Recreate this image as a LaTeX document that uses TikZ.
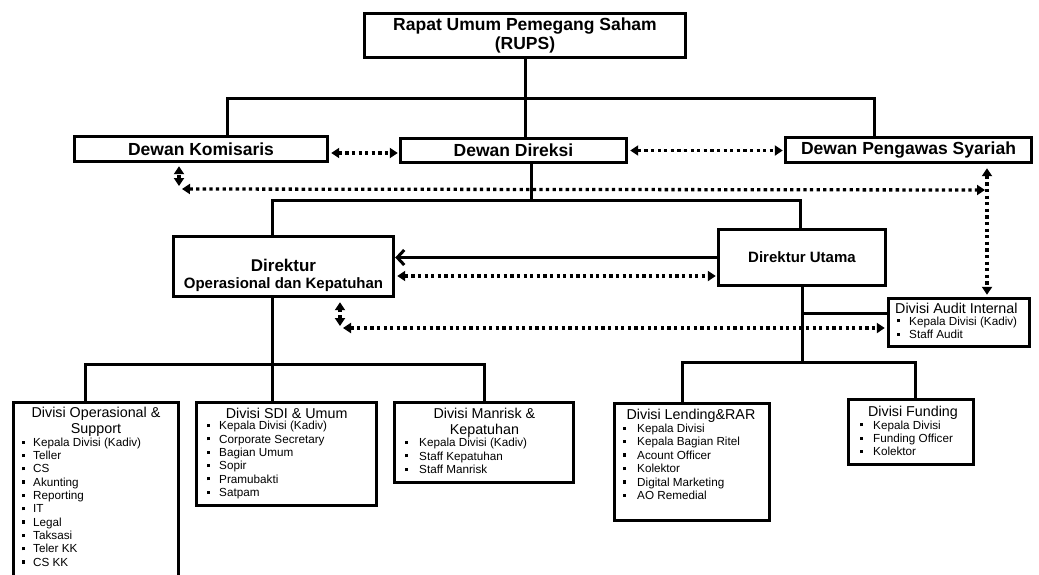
\documentclass[tikz,border=0pt]{standalone}
\usepackage{fontspec}
\setmainfont{Liberation Sans}
\usetikzlibrary{arrows.meta,calc}
\newcommand{\bul}[1]{\makebox[#1][l]{\raisebox{2.6pt}{\rule{3.2pt}{3.2pt}}}}
\newcommand{\blist}[6]{%
  \foreach \itm [count=\i] in {#6} {
    \node[item] (#1-\i) at ({#2},{#3+(\i-1)*#5}) {\bul{#4}\itm};
  }%
}
\tikzset{
  box/.style={draw, line width=3.4pt, inner sep=0pt},
  head/.style={font=\fontsize{17.5}{19.5}\selectfont\bfseries, align=center, inner sep=0pt},
  dtitle/.style={font=\fontsize{14.3}{16}\selectfont, align=center, inner sep=0pt},
  item/.style={anchor=west, inner sep=0pt, font=\fontsize{11.7}{13}\selectfont, text height=8.5pt, text depth=2.5pt},
  conn/.style={line width=3pt},
  dots/.style={line width=3.3pt, dash pattern=on 3.3pt off 3.3pt,
    {Triangle[length=8pt,width=10pt]}-{Triangle[length=8pt,width=10pt]}},
}
\begin{document}
\begin{tikzpicture}[x=1pt,y=-1pt]
\fill[white] (0,0) rectangle (1039,574);
\useasboundingbox (0,0) rectangle (1039,574);

% boxes
\node[box, minimum width=321pt, minimum height=44pt, head] (rups) at (525,35.5) {Rapat Umum Pemegang Saham\\(RUPS)};
\node[box, minimum width=253pt, minimum height=25pt, head] (dk) at (201,149) {Dewan Komisaris};
\node[box, minimum width=226pt, minimum height=24pt, head] (dd) at (513.5,150.5) {Dewan Direksi};
\node[box, minimum width=246pt, minimum height=25pt, head] (dps) at (908.5,150) {Dewan Pengawas Syariah};
\node[box, minimum width=220pt, minimum height=60pt] (dok) at (283.5,266.5) {};
\node[align=center, inner sep=0pt, font=\fontsize{15}{17}\selectfont\bfseries] (dokt) at (283.5,275)
  {{\fontsize{17}{17}\selectfont Direktur}\\Operasional dan Kepatuhan};
\node[box, minimum width=167pt, minimum height=56pt, font=\fontsize{15}{17}\selectfont\bfseries] (du) at (802,257.5) {Direktur Utama};
\node[box, minimum width=141pt, minimum height=48pt] (audit) at (959,322.5) {};
\node[box, minimum width=165pt, minimum height=196pt] (op) at (96,500.5) {};
\node[box, minimum width=180pt, minimum height=103pt] (sdi) at (286.5,454) {};
\node[box, minimum width=179pt, minimum height=80pt] (man) at (484,442.5) {};
\node[box, minimum width=155pt, minimum height=117pt] (lend) at (692,462) {};
\node[box, minimum width=125pt, minimum height=65pt] (fund) at (911,432) {};

% titles
\node[dtitle, anchor=west] (auditt) at (895,308) {Divisi Audit Internal};
\node[dtitle] (opt) at (96,422) {Divisi Operasional \&\\Support};
\node[dtitle] (sdit) at (286.7,413.5) {Divisi SDI \& Umum};
\node[dtitle] (mant) at (484.4,423) {Divisi Manrisk \&\\Kepatuhan};
\node[dtitle] (lendt) at (691,415.5) {Divisi Lending\&RAR};
\node[dtitle] (fundt) at (913,412.5) {Divisi Funding};

% lists
\blist{au}{897}{322}{12pt}{13.5}{Kepala Divisi (Kadiv),Staff Audit}
\blist{op}{22}{443.3}{11pt}{13.33}{Kepala Divisi (Kadiv),Teller,CS,Akunting,Reporting,IT,Legal,Taksasi,Teler KK,CS KK}
\blist{sd}{207}{426.7}{12pt}{13.33}{Kepala Divisi (Kadiv),Corporate Secretary,Bagian Umum,Sopir,Pramubakti,Satpam}
\blist{mr}{405}{443.3}{14pt}{13.7}{Kepala Divisi (Kadiv),Staff Kepatuhan,Staff Manrisk}
\blist{ld}{623}{429.3}{14pt}{13.45}{Kepala Divisi,Kepala Bagian Ritel,Acount Officer,Kolektor,Digital Marketing,AO Remedial}
\blist{fd}{860}{426}{13pt}{13.33}{Kepala Divisi,Funding Officer,Kolektor}

% helper coordinates
\coordinate (b1L) at (227,98);
\coordinate (b1R) at (874,98);
\coordinate (j1) at (531,200);
\coordinate (b2L) at (272,200);
\coordinate (b2R) at (800,200);
\coordinate (j3) at (802,362);
\coordinate (b4L) at (682,362);
\coordinate (b4R) at (915,362);
\coordinate (j4) at (802,313);
\coordinate (b3L) at (85,364);
\coordinate (b3M) at (272,364);
\coordinate (b3R) at (484,364);

% solid connectors
\draw[conn] (rups.south) -- (rups.south |- dd.north);
\draw[conn] (b1L |- dk.north) -- (b1L) -- (b1R) -- (b1R |- dps.north);
\draw[conn] (j1 |- dd.south) -- (j1);
\draw[conn] (b2L |- dok.north) -- (b2L) -- (b2R) -- (b2R |- du.north);
\draw[conn] (du.south) -- (j3);
\draw[conn] (b4L |- lend.north) -- (b4L) -- (b4R) -- (b4R |- fund.north);
\draw[conn] (j4) -- (j4 -| audit.west);
\draw[conn] (b3M |- dok.south) -- (b3M) -- (b3M |- sdi.north);
\draw[conn] (b3L |- op.north) -- (b3L) -- (b3R) -- (b3R |- man.north);
\draw[conn, -{Straight Barb[length=7pt,width=15pt]}] (du.west) -- (du.west -| dok.east);

% dotted connectors
\coordinate (ya) at (0,153);
\draw[dots] ($(dk.east |- ya)+(2,0)$) -- ($(dd.west |- ya)+(-1,0)$);
\draw[dots] ($(dd.east)+(2,0)$) -- ($(dd.east -| dps.west)+(-1,0)$);
\coordinate (lA) at (182,189);
\coordinate (lB) at (985,190);
\draw[dots] (lA) -- (lB);
\coordinate (lV) at (179,186);
\draw[dots] (lV) -- ($(lV |- dk.south)+(0,3)$);
\coordinate (rV) at (987,0);
\draw[dots] ($(rV |- dps.south)+(0,4)$) -- ($(rV |- audit.north)+(0,-2)$);
\coordinate (yb) at (0,276);
\draw[dots] ($(dok.east |- yb)+(2,0)$) -- ($(du.west |- yb)+(-1,0)$);
\coordinate (mV) at (340,326);
\draw[dots] (mV) -- ($(mV |- dok.south)+(0,4)$);
\coordinate (mA) at (343,328);
\draw[dots] (mA) -- ($(mA -| audit.west)+(-2,0)$);
\end{tikzpicture}
\end{document}
